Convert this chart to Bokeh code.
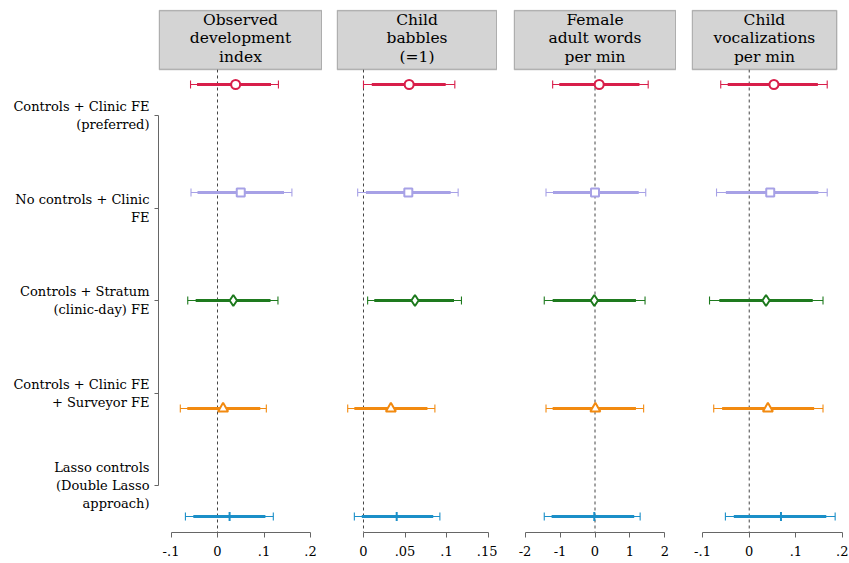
import math
from bokeh.plotting import figure
from bokeh.layouts import row
from bokeh.models import Range1d, LinearAxis, FixedTicker, BoxAnnotation, ColumnDataSource
from bokeh.core.properties import value
from bokeh.embed import file_html
from bokeh.resources import INLINE

# ---------------- data ----------------
specs = ["Controls + Clinic FE\n(preferred)",
         "No controls + Clinic\nFE",
         "Controls + Stratum\n(clinic-day) FE",
         "Controls + Clinic FE\n+ Surveyor FE",
         "Lasso controls\n(Double Lasso\napproach)"]
rows_idx = [1, 2, 3, 4, 5]

titles = ["Observed\ndevelopment\nindex", "Child\nbabbles\n(=1)",
          "Female\nadult words\nper min", "Child\nvocalizations\nper min"]

# panel 1: observed development index
dev_est = [0.039, 0.050, 0.034, 0.012, 0.026]
dev_lo95 = [-0.058, -0.057, -0.064, -0.080, -0.069]
dev_hi95 = [0.131, 0.160, 0.130, 0.105, 0.120]
dev_lo90 = [-0.044, -0.043, -0.047, -0.065, -0.052]
dev_hi90 = [0.115, 0.143, 0.114, 0.092, 0.103]

# panel 2: child babbles
bab_est = [0.055, 0.054, 0.062, 0.033, 0.040]
bab_lo95 = [0.000, -0.007, 0.005, -0.019, -0.011]
bab_hi95 = [0.110, 0.114, 0.118, 0.086, 0.092]
bab_lo90 = [0.010, 0.003, 0.013, -0.011, -0.002]
bab_hi90 = [0.099, 0.105, 0.109, 0.077, 0.084]

# panel 3: female adult words per min
fem_est = [0.12, 0.00, -0.02, 0.01, -0.02]
fem_lo95 = [-1.21, -1.40, -1.45, -1.40, -1.45]
fem_hi95 = [1.52, 1.45, 1.43, 1.39, 1.29]
fem_lo90 = [-1.02, -1.20, -1.21, -1.21, -1.24]
fem_hi90 = [1.27, 1.25, 1.17, 1.17, 1.12]

# panel 4: child vocalizations per min
voc_est = [0.053, 0.045, 0.036, 0.040, 0.068]
voc_lo95 = [-0.061, -0.070, -0.085, -0.076, -0.051]
voc_hi95 = [0.167, 0.167, 0.158, 0.158, 0.184]
voc_lo90 = [-0.046, -0.050, -0.064, -0.058, -0.033]
voc_hi90 = [0.147, 0.148, 0.136, 0.139, 0.165]

dev_ticks = [-0.1, 0, 0.1, 0.2]
dev_labels = ["-.1", "0", ".1", ".2"]
bab_ticks = [0, 0.05, 0.1, 0.15]
bab_labels = ["0", ".05", ".1", ".15"]
fem_ticks = [-2, -1, 0, 1, 2]
fem_labels = ["-2", "-1", "0", "1", "2"]
voc_ticks = [-0.1, 0, 0.1, 0.2]
voc_labels = ["-.1", "0", ".1", ".2"]

# ---------------- styles ----------------
colors = ["#d81e4a", "#a7a1e6", "#1e7a1e", "#f28a10", "#1b8fc8"]
markers = ["circle", "square", "diamond", "triangle", "dash"]
msizes = [9, 8, 11, 10, 9]
mangles = [0, 0, 0, 0, math.pi / 2]
SERIF = value("DejaVu Serif")

Y_BOTTOM, Y_TOP = 5.148, 0.3056
HDR_TOP, HDR_BOT, HDR_MID = 0.3148, 0.861, 0.571
LAB_RANGE = (5.508, -0.146)

panels = [
    dict(est=dev_est, lo95=dev_lo95, hi95=dev_hi95, lo90=dev_lo90, hi90=dev_hi90,
         ticks=dev_ticks, labels=dev_labels, xr=(-0.1269, 0.2258), width=322, bl=158, br=0),
    dict(est=bab_est, lo95=bab_lo95, hi95=bab_hi95, lo90=bab_lo90, hi90=bab_hi90,
         ticks=bab_ticks, labels=bab_labels, xr=(-0.0325, 0.1614), width=175, bl=14, br=0),
    dict(est=fem_est, lo95=fem_lo95, hi95=fem_hi95, lo90=fem_lo90, hi90=fem_hi90,
         ticks=fem_ticks, labels=fem_labels, xr=(-2.329, 2.329), width=179, bl=16, br=0),
    dict(est=voc_est, lo95=voc_lo95, hi95=voc_hi95, lo90=voc_lo90, hi90=voc_hi90,
         ticks=voc_ticks, labels=voc_labels, xr=(-0.1236, 0.2083), width=172, bl=15, br=2,
         box_right=0.1874),
]

figs = []
for k, pn in enumerate(panels):
    xs, xe = pn["xr"]
    p = figure(width=pn["width"], height=563, x_range=Range1d(xs, xe),
               y_range=Range1d(Y_BOTTOM, Y_TOP), output_backend="svg",
               toolbar_location=None, y_axis_location=None, x_axis_location=None,
               min_border_left=pn["bl"], min_border_right=pn["br"],
               min_border_top=9, min_border_bottom=31)
    p.outline_line_color = None
    p.xgrid.visible = False
    p.ygrid.visible = False
    p.background_fill_color = "white"
    p.border_fill_color = "white"

    # x axis
    xa = LinearAxis(ticker=FixedTicker(ticks=pn["ticks"]),
                    major_label_overrides={t: l for t, l in zip(pn["ticks"], pn["labels"])},
                    bounds=(min(pn["ticks"]), max(pn["ticks"])))
    xa.axis_line_color = "#666666"
    xa.major_tick_line_color = "#666666"
    xa.major_tick_out = 5
    xa.major_tick_in = 0
    xa.minor_tick_line_color = None
    xa.major_label_standoff = 8
    xa.major_label_text_font = "DejaVu Serif"
    xa.major_label_text_font_size = "13px"
    xa.major_label_text_color = "black"
    p.add_layout(xa, "below")

    if k == 0:
        p.extra_y_ranges = {"lab": Range1d(*LAB_RANGE)}
        ya = LinearAxis(y_range_name="lab", ticker=FixedTicker(ticks=rows_idx),
                        major_label_overrides={r: s for r, s in zip(rows_idx, specs)},
                        bounds=(1, 5))
        ya.axis_line_color = "#666666"
        ya.major_tick_line_color = "#666666"
        ya.major_tick_out = 4
        ya.major_tick_in = 0
        ya.minor_tick_line_color = None
        ya.major_label_standoff = 5
        ya.major_label_text_font = "DejaVu Serif"
        ya.major_label_text_font_size = "13px"
        ya.major_label_text_color = "black"
        ya.major_label_text_align = "right"
        p.add_layout(ya, "left")

    # zero reference line
    p.line(x=[0, 0], y=[HDR_BOT, Y_BOTTOM], line_color="#444444", line_width=1,
           line_dash="3 3")

    src = ColumnDataSource(dict(y=rows_idx, est=pn["est"], lo95=pn["lo95"], hi95=pn["hi95"],
                                lo90=pn["lo90"], hi90=pn["hi90"], color=colors,
                                marker=markers, size=msizes, angle=mangles))
    p.segment(x0="lo95", y0="y", x1="hi95", y1="y", source=src, line_color="color",
              line_width=1.2)
    p.segment(x0="lo90", y0="y", x1="hi90", y1="y", source=src, line_color="color",
              line_width=3)
    p.scatter(x="lo95", y="y", source=src, marker="dash", angle=math.pi / 2, size=8,
              line_color="color", line_width=1.1)
    p.scatter(x="hi95", y="y", source=src, marker="dash", angle=math.pi / 2, size=8,
              line_color="color", line_width=1.1)
    p.scatter(x="est", y="y", source=src, marker="marker", size="size", angle="angle",
              line_color="color", fill_color="white", line_width=2)

    # header box
    dx = (xe - xs) * 0.004
    right = pn.get("box_right", xe - dx)
    hb = BoxAnnotation(left=xs + dx, right=right, top=HDR_TOP, bottom=HDR_BOT,
                       fill_color="#d4d4d4", fill_alpha=1.0,
                       line_color="#333333", line_width=1.4)
    p.add_layout(hb)
    p.text(x=[(xs + dx + right) / 2], y=[HDR_MID], text=[titles[k]], text_align="center",
           text_baseline="middle", text_font=SERIF, text_font_size="15.5px",
           text_line_height=1.03, text_color="black", level="overlay")
    figs.append(p)

layout = row(*figs, spacing=0)
open("out.html", "w").write(file_html(layout, INLINE))
